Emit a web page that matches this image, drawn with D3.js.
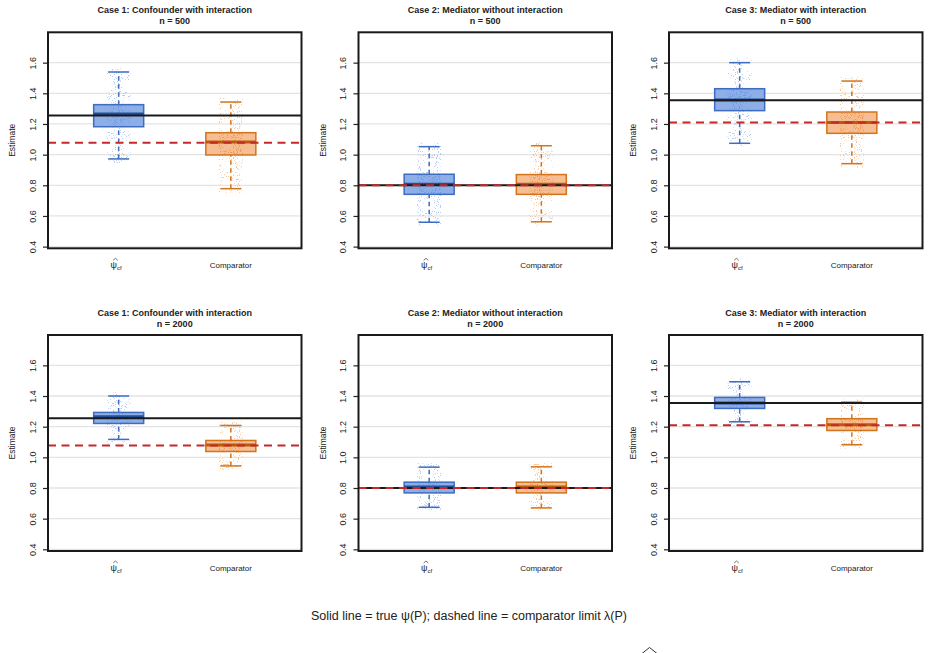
<!DOCTYPE html>
<html>
<head>
<meta charset="utf-8">
<script src="https://cdn.jsdelivr.net/npm/d3@7"></script>
<style>
  body { margin: 0; background: #fff; }
  svg text { font-family: "Liberation Sans", Arial, Helvetica, sans-serif; fill: #222; }
</style>
</head>
<body>
<div id="chart"></div>
<script>
// panel titles, sample sizes and the two estimators
var caseTitles = ["Case 1: Confounder with interaction", "Case 2: Mediator without interaction", "Case 3: Mediator with interaction"];
var sampleSizes = [500, 2000];
var estimators = ["psi", "Comparator"];

// true psi(P) and comparator limit lambda(P) per case
var trueValues = [1.255, 0.800, 1.355];
var limitValues = [1.078, 0.800, 1.209];

// box stats per case: [lower whisker, q1, median, q3, upper whisker]
var psi500 = [[0.972, 1.182, 1.265, 1.326, 1.539], [0.559, 0.741, 0.806, 0.872, 1.052], [1.074, 1.287, 1.357, 1.430, 1.600]];
var comp500 = [[0.778, 0.998, 1.083, 1.143, 1.343], [0.562, 0.741, 0.806, 0.870, 1.058], [0.941, 1.139, 1.209, 1.278, 1.480]];
var psi2000 = [[1.117, 1.221, 1.265, 1.293, 1.400], [0.674, 0.768, 0.807, 0.838, 0.936], [1.232, 1.319, 1.354, 1.391, 1.493]];
var comp2000 = [[0.944, 1.038, 1.080, 1.110, 1.208], [0.670, 0.768, 0.807, 0.838, 0.938], [1.082, 1.175, 1.212, 1.252, 1.360]];

var yTicks = [0.4, 0.6, 0.8, 1.0, 1.2, 1.4, 1.6];

var svgWidth = 929;
var svgHeight = 653;

var panelW = 253.5;
var panelH = 216;
var left0 = 48;
var top0 = 32.3;
var colStep = 310.5;
var rowStep = 302.7;

var colors = {
  psi: { fill: "#8DAEE6", stroke: "#3D6CC0", median: "#234E9C", dots: "#5F8FE6" },
  Comparator: { fill: "#F6BE92", stroke: "#D2741C", median: "#B65C0A", dots: "#EE8A35" }
};

var svg = d3.select("#chart")
  .append("svg")
  .attr("width", svgWidth)
  .attr("height", svgHeight);

// speckle texture for the jittered points
var defs = svg.append("defs");
function speckle(id, slope, offset) {
  var f = defs.append("filter")
    .attr("id", id)
    .attr("x", 0).attr("y", 0).attr("width", 1).attr("height", 1)
    .attr("color-interpolation-filters", "sRGB");
  f.append("feTurbulence")
    .attr("type", "fractalNoise")
    .attr("baseFrequency", 0.95)
    .attr("numOctaves", 1)
    .attr("seed", 3)
    .attr("result", "noise");
  f.append("feColorMatrix")
    .attr("in", "noise")
    .attr("type", "matrix")
    .attr("values", "0 0 0 0 0  0 0 0 0 0  0 0 0 0 0  " + slope + " 0 0 0 " + offset)
    .attr("result", "mask");
  f.append("feComposite")
    .attr("in", "SourceGraphic")
    .attr("in2", "mask")
    .attr("operator", "in");
}
speckle("sparse", 14, -8.6);
speckle("dense", 12, -6.6);

var y = d3.scaleLinear()
  .domain([0.389, 1.798])
  .range([panelH, 0]);

var x = d3.scalePoint()
  .domain(estimators)
  .range([0, panelW])
  .padding(0.63);

var boxW = 50;
var capW = 21;
var jitterW = 24;

sampleSizes.forEach(function(n, row) {
  var psiStats = n === 500 ? psi500 : psi2000;
  var compStats = n === 500 ? comp500 : comp2000;

  caseTitles.forEach(function(title, col) {
    var g = svg.append("g")
      .attr("transform", `translate(${left0 + col * colStep}, ${top0 + row * rowStep})`);

    // grid lines
    g.selectAll(".grid")
      .data(yTicks)
      .enter()
      .append("line")
      .attr("x1", 0)
      .attr("x2", panelW)
      .attr("y1", d => y(d))
      .attr("y2", d => y(d))
      .attr("stroke", "#e4e4e4")
      .attr("stroke-width", 1.3);

    // y axis
    var yAxis = d3.axisLeft(y)
      .tickValues(yTicks)
      .tickFormat(d3.format(".1f"))
      .tickSize(5)
      .tickPadding(3);
    var ax = g.append("g").call(yAxis);
    ax.select(".domain").remove();
    ax.selectAll(".tick line").attr("stroke", "#222").attr("stroke-width", 1.2);
    ax.selectAll(".tick text")
      .attr("x", null).attr("dy", null)
      .attr("text-anchor", "middle")
      .attr("transform", "translate(-12.5,0) rotate(-90)")
      .style("font-size", "9px")
      .style("font-family", "'Liberation Sans', Arial, sans-serif")
      .attr("fill", "#333");

    var stats = [psiStats[col], compStats[col]];

    estimators.forEach(function(est, i) {
      var s = stats[i];
      var cx = x(est);
      var c = colors[est];

      // box fill
      g.append("rect")
        .attr("x", cx - boxW / 2)
        .attr("width", boxW)
        .attr("y", y(s[3]))
        .attr("height", y(s[1]) - y(s[3]))
        .attr("fill", c.fill);

      // jittered estimates, drawn as a texture
      g.append("rect")
        .attr("x", cx - jitterW / 2)
        .attr("width", jitterW)
        .attr("y", y(s[4]) - 4)
        .attr("height", y(s[0]) - y(s[4]) + 8)
        .attr("fill", c.dots)
        .attr("opacity", 0.45)
        .attr("filter", "url(#sparse)");
      g.append("rect")
        .attr("x", cx - jitterW / 2)
        .attr("width", jitterW)
        .attr("y", y(s[3]))
        .attr("height", y(s[1]) - y(s[3]))
        .attr("fill", c.dots)
        .attr("opacity", 0.45)
        .attr("filter", "url(#dense)");

      // whiskers
      [[s[3], s[4]], [s[0], s[1]]].forEach(function(w) {
        g.append("line")
          .attr("x1", cx).attr("x2", cx)
          .attr("y1", y(w[0])).attr("y2", y(w[1]))
          .attr("stroke", c.stroke)
          .attr("stroke-width", 1.5)
          .attr("stroke-dasharray", "4.5,3.5");
      });
      [s[0], s[4]].forEach(function(v) {
        g.append("line")
          .attr("x1", cx - capW / 2).attr("x2", cx + capW / 2)
          .attr("y1", y(v)).attr("y2", y(v))
          .attr("stroke", c.stroke)
          .attr("stroke-width", 1.5);
      });

      // box outline and median
      g.append("rect")
        .attr("x", cx - boxW / 2)
        .attr("width", boxW)
        .attr("y", y(s[3]))
        .attr("height", y(s[1]) - y(s[3]))
        .attr("fill", "none")
        .attr("stroke", c.stroke)
        .attr("stroke-width", 1.5);
      g.append("line")
        .attr("x1", cx - boxW / 2).attr("x2", cx + boxW / 2)
        .attr("y1", y(s[2])).attr("y2", y(s[2]))
        .attr("stroke", c.median)
        .attr("stroke-width", 3);
    });

    // true value (solid) and comparator limit (dashed)
    g.append("line")
      .attr("x1", 0).attr("x2", panelW)
      .attr("y1", y(trueValues[col])).attr("y2", y(trueValues[col]))
      .attr("stroke", "#1a1a1a")
      .attr("stroke-width", 2);
    g.append("line")
      .attr("x1", 0).attr("x2", panelW)
      .attr("y1", y(limitValues[col])).attr("y2", y(limitValues[col]))
      .attr("stroke", "#C62828")
      .attr("stroke-width", 2)
      .attr("stroke-dasharray", "8,5.5");

    // frame
    g.append("rect")
      .attr("width", panelW)
      .attr("height", panelH)
      .attr("fill", "none")
      .attr("stroke", "#1a1a1a")
      .attr("stroke-width", 2);

    // x labels: psi-hat with subscript cf
    var px = x("psi");
    var psiLabel = g.append("text")
      .attr("x", px - 2.5)
      .attr("y", panelH + 19.5)
      .attr("text-anchor", "middle")
      .style("font-size", "9px");
    psiLabel.append("tspan").text("\u03C8");
    psiLabel.append("tspan")
      .attr("dy", 2.5)
      .style("font-size", "6px")
      .text("cf");
    g.append("path")
      .attr("d", d3.line()([[px - 5.5, panelH + 12], [px - 3.2, panelH + 10], [px - 0.9, panelH + 12]]))
      .attr("fill", "none")
      .attr("stroke", "#333")
      .attr("stroke-width", 0.7);
    g.append("text")
      .attr("x", x("Comparator"))
      .attr("y", panelH + 19.5)
      .attr("text-anchor", "middle")
      .style("font-size", "8px")
      .text("Comparator");

    // y label
    g.append("text")
      .attr("transform", `translate(-33, ${panelH / 2}) rotate(-90)`)
      .attr("text-anchor", "middle")
      .style("font-size", "8.5px")
      .text("Estimate");

    // title
    g.append("text")
      .attr("x", panelW / 2)
      .attr("y", -19)
      .attr("text-anchor", "middle")
      .style("font-size", "9px")
      .style("font-weight", "bold")
      .text(title);
    g.append("text")
      .attr("x", panelW / 2)
      .attr("y", -8.5)
      .attr("text-anchor", "middle")
      .style("font-size", "9px")
      .style("font-weight", "bold")
      .text(`n = ${n}`);
  });
});

// caption
svg.append("text")
  .attr("x", 469)
  .attr("y", 619.5)
  .attr("text-anchor", "middle")
  .style("font-size", "12.5px")
  .text("Solid line = true \u03C8(P); dashed line = comparator limit \u03BB(P)");

// hat of the next caption line, which is clipped by the page edge
svg.append("path")
  .attr("d", d3.line()([[642, 653.5], [649.5, 647.5], [657, 653.5]]))
  .attr("fill", "none")
  .attr("stroke", "#333")
  .attr("stroke-width", 1);
</script>
</body>
</html>
